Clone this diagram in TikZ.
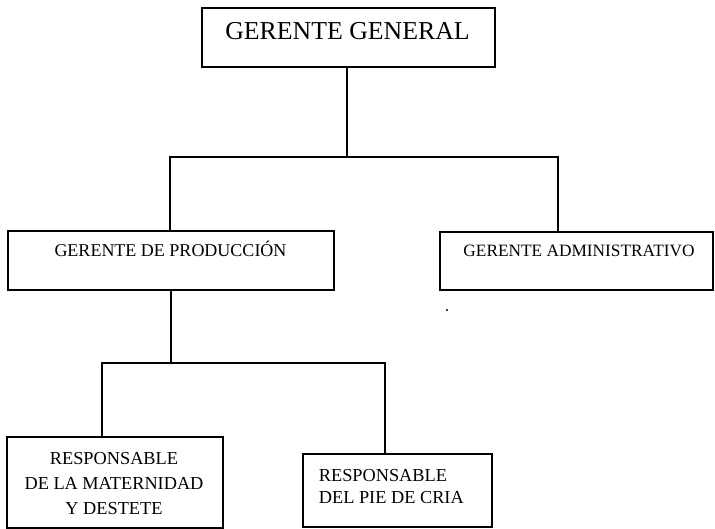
\documentclass[tikz,border=0pt]{standalone}
\usepackage{fontspec}
\setmainfont{Liberation Serif}
\begin{document}
\begin{tikzpicture}[x=1pt,y=-1pt,line width=1.8pt,
  box/.style={draw,rectangle,inner sep=0pt},
  lbl/.style={inner sep=0pt},
  conn/.style={draw,line width=1.8pt}]
\useasboundingbox (0,0) rectangle (715,529);
% boxes
\node[box,minimum width=293pt,minimum height=59pt] (gg) at (348.5,37.5) {};
\node[box,minimum width=326pt,minimum height=59pt] (prod) at (171,260.5) {};
\node[box,minimum width=273pt,minimum height=58pt] (adm) at (576.5,261) {};
\node[box,minimum width=216pt,minimum height=91pt] (mat) at (115,482.5) {};
\node[box,minimum width=189pt,minimum height=73pt] (pie) at (397.5,490.5) {};
% texts
\node[lbl,anchor=base,font=\fontsize{25.8}{30}\selectfont] (ggt) at (347.5,40) {GERENTE GENERAL};
\node[lbl,anchor=base,font=\fontsize{18}{22}\selectfont] (prodt) at (170.5,257) {GERENTE DE PRODUCCIÓN};
\node[lbl,anchor=base,font=\fontsize{17.3}{22}\selectfont] (admt) at (579,257) {GERENTE ADMINISTRATIVO};
\node[lbl,anchor=north,align=center,font=\fontsize{18.3}{25}\selectfont] (matt) at (114,451) {RESPONSABLE\\DE LA MATERNIDAD\\Y DESTETE};
\node[lbl,anchor=north west,align=left,font=\fontsize{18.3}{22.5}\selectfont] (piet) at (318,468) {RESPONSABLE\\DEL PIE DE CRIA};
% junctions
\coordinate (t1l) at (170,157);
\coordinate (t1r) at (558,157);
\coordinate (t2l) at (102,363);
\coordinate (t2r) at (385,363);
% connectors
\draw[conn] (gg.south -| 347,0) -- (347,0 |- t1l);
\draw[conn] (t1l |- prod.north) -- (t1l) -- (t1r) -- (t1r |- adm.north);
\draw[conn] (prod.south) -- (prod.south |- t2l);
\draw[conn] (t2l |- mat.north) -- (t2l) -- (t2r) -- (t2r |- pie.north);
% stray dot
\fill (447,310) circle (1.1pt);
\end{tikzpicture}
\end{document}
